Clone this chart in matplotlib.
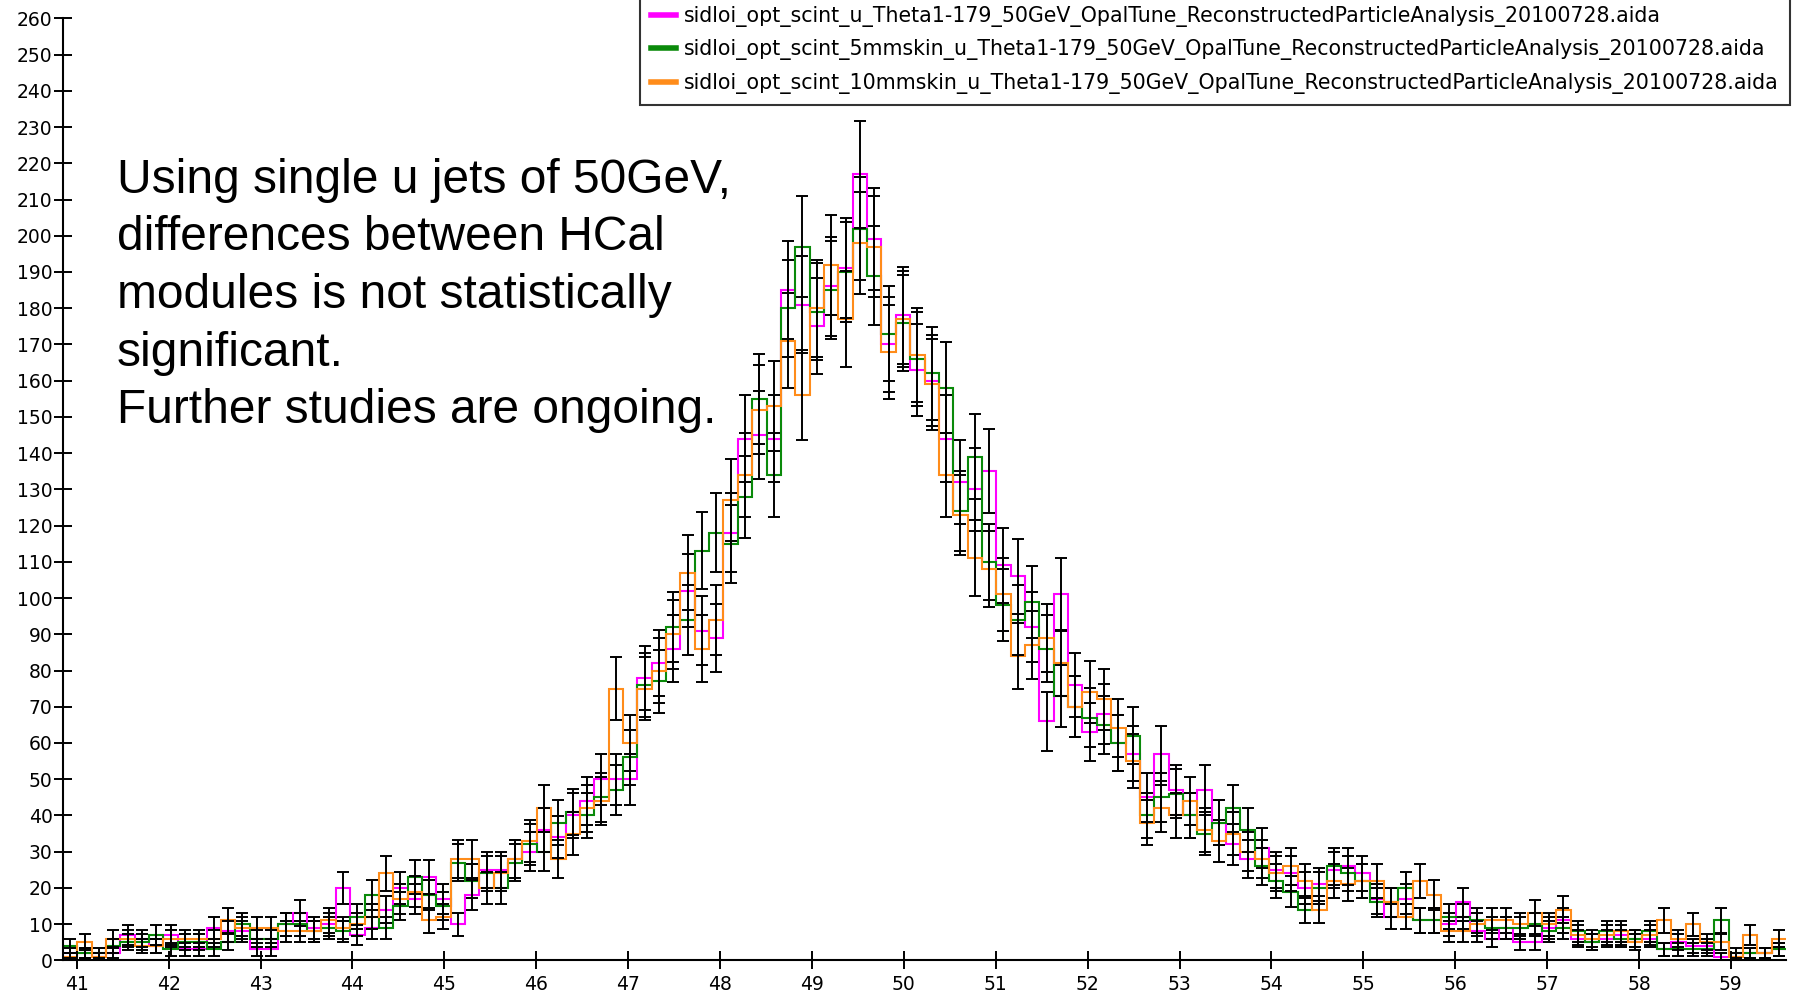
import numpy as np
import matplotlib
matplotlib.use("Agg")
import matplotlib.pyplot as plt

# 120 bins of width 0.15625 starting at 40.85
bin_lo = 40.85
bin_w = 0.15625
n_bins = 120

u_plain = [2, 2, 1, 2, 7, 6, 4, 7, 3, 3,
           9, 8, 8, 3, 3, 10, 13, 9, 10, 20,
           7, 9, 14, 20, 17, 23, 17, 10, 18, 25,
           25, 28, 30, 36, 34, 40, 44, 50, 50, 50,
           78, 82, 86, 102, 91, 89, 118, 144, 145, 144,
           185, 181, 175, 186, 191, 217, 199, 170, 178, 163,
           160, 144, 132, 130, 135, 109, 106, 92, 66, 101,
           76, 63, 68, 60, 57, 45, 57, 47, 40, 47,
           38, 32, 28, 31, 25, 24, 20, 21, 25, 26,
           24, 17, 12, 17, 11, 11, 10, 16, 8, 6,
           9, 5, 5, 9, 11, 6, 5, 6, 7, 6,
           6, 3, 5, 4, 4, 1, 1, 2, 2, 3]

u_5mm = [4, 2, 2, 4, 5, 5, 7, 3, 5, 5,
         3, 5, 10, 6, 6, 10, 10, 8, 9, 8,
         12, 18, 9, 15, 23, 18, 15, 27, 22, 24,
         20, 27, 32, 30, 38, 41, 40, 45, 47, 56,
         76, 77, 92, 94, 113, 118, 115, 128, 155, 134,
         180, 197, 179, 185, 190, 202, 189, 173, 176, 166,
         162, 158, 124, 139, 110, 98, 94, 99, 86, 73,
         70, 67, 65, 60, 62, 40, 45, 46, 40, 35,
         38, 42, 36, 26, 22, 19, 14, 20, 26, 24,
         22, 16, 16, 20, 11, 11, 12, 12, 11, 9,
         9, 9, 10, 8, 9, 8, 5, 8, 6, 6,
         8, 3, 3, 3, 3, 11, 2, 2, 2, 3]

u_10mm = [1, 5, 1, 6, 6, 4, 4, 6, 6, 6,
          6, 11, 9, 9, 9, 8, 8, 8, 11, 9,
          10, 12, 24, 17, 19, 11, 12, 28, 28, 20,
          24, 28, 33, 42, 28, 35, 42, 44, 75, 60,
          75, 80, 90, 107, 86, 94, 127, 134, 152, 153,
          171, 156, 180, 192, 177, 198, 197, 168, 177, 167,
          159, 134, 123, 111, 108, 101, 84, 87, 89, 82,
          70, 74, 72, 64, 55, 38, 42, 40, 44, 36,
          33, 35, 30, 28, 24, 26, 22, 14, 22, 21,
          22, 22, 16, 12, 22, 18, 8, 8, 10, 11,
          11, 10, 13, 10, 14, 7, 6, 7, 8, 5,
          7, 11, 6, 10, 5, 5, 1, 7, 2, 6]

labels = [
    "sidloi_opt_scint_u_Theta1-179_50GeV_OpalTune_ReconstructedParticleAnalysis_20100728.aida",
    "sidloi_opt_scint_5mmskin_u_Theta1-179_50GeV_OpalTune_ReconstructedParticleAnalysis_20100728.aida",
    "sidloi_opt_scint_10mmskin_u_Theta1-179_50GeV_OpalTune_ReconstructedParticleAnalysis_20100728.aida",
]
colors = ["#ff00ff", "#0a8a0a", "#ff8c1a"]

note = ("Using single u jets of 50GeV,\n"
        "differences between HCal\n"
        "modules is not statistically\n"
        "significant.\n"
        "Further studies are ongoing.")

edges = bin_lo + bin_w * np.arange(n_bins + 1)
centers = 0.5 * (edges[:-1] + edges[1:])

fig = plt.figure(figsize=(17.99, 9.99), dpi=100)
ax = fig.add_axes([0.035, 0.0387, 0.9578, 0.9429])

series = [u_plain, u_5mm, u_10mm]
for vals, col, lab in zip(series, colors, labels):
    ax.stairs(vals, edges, color=col, linewidth=1.5, baseline=None, label=lab)

for vals in series:
    v = np.array(vals, dtype=float)
    ax.errorbar(centers, v, yerr=np.sqrt(v), fmt="none", ecolor="black",
                elinewidth=1.4, capsize=4.5, capthick=1.4, zorder=5)

ax.set_xlim(edges[0], edges[-1])
ax.set_ylim(0, 260)
ax.set_xticks(np.arange(41, 60))
ax.set_yticks(np.arange(0, 261, 10))
for s in ["top", "right"]:
    ax.spines[s].set_visible(False)
for s in ["left", "bottom"]:
    ax.spines[s].set_linewidth(1.5)
ax.tick_params(axis="both", direction="inout", length=13, width=1.4,
               labelsize=13.5)
ax.tick_params(axis="y", pad=1)
ax.tick_params(axis="x", pad=4)

handles = [plt.Line2D([], [], color=c, linewidth=4) for c in colors]
leg = fig.legend(handles, labels, loc="lower right",
                 bbox_to_anchor=(0.995, 0.8944), fontsize=14.8,
                 frameon=True, fancybox=False, edgecolor="black",
                 handlelength=1.2, handletextpad=0.4, labelspacing=0.62,
                 borderpad=0.55, borderaxespad=0)
leg.get_frame().set_linewidth(1.5)

fig.text(0.065, 0.842, note, fontsize=34.5, family="Liberation Sans",
         va="top", ha="left", linespacing=1.36)

fig.savefig("out.png", dpi=100)
